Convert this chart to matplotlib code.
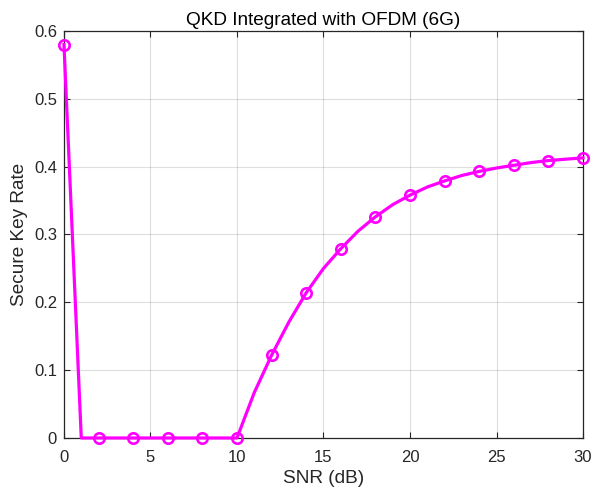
import matplotlib
matplotlib.use("Agg")
import matplotlib.pyplot as plt

plt.rcParams['font.family'] = ['Liberation Sans', 'DejaVu Sans']

snr = list(range(0, 31))
skr = [0.580, 0.0, 0.0, 0.0, 0.0, 0.0, 0.0, 0.0, 0.0, 0.0, 0.0,
       0.067, 0.122, 0.171, 0.214, 0.250, 0.279, 0.305, 0.326, 0.344,
       0.358, 0.370, 0.379, 0.387, 0.393, 0.398, 0.402, 0.406, 0.409,
       0.411, 0.413]
xticks = [0, 5, 10, 15, 20, 25, 30]
yticks = [0, 0.1, 0.2, 0.3, 0.4, 0.5, 0.6]
ytick_labels = ['0', '0.1', '0.2', '0.3', '0.4', '0.5', '0.6']

dark = (0.15, 0.15, 0.15)
fig = plt.figure(figsize=(5.94, 4.95), dpi=100)
ax = fig.add_axes([0.1077, 0.1152, 0.8738, 0.8222])
ax.plot(snr, skr, color=(1, 0, 1), linewidth=2.3, marker='o', markevery=2,
        markersize=7.5, markerfacecolor='none', markeredgewidth=1.9,
        clip_on=False, zorder=3)
ax.set_xlim(0, 30)
ax.set_ylim(0, 0.6)
ax.set_xticks(xticks)
ax.set_yticks(yticks)
ax.set_yticklabels(ytick_labels)
ax.grid(True, color=dark, alpha=0.15, linewidth=0.8)
ax.tick_params(direction='in', top=True, right=True, labelsize=12,
               colors=dark, length=4)
ax.tick_params(axis='y', pad=5)
ax.tick_params(axis='x', pad=8.5)
for s in ax.spines.values():
    s.set_color(dark)
    s.set_linewidth(0.9)
ax.set_xlabel('SNR (dB)', fontsize=13.7, color=dark, labelpad=4)
ax.set_ylabel('Secure Key Rate', fontsize=13.7, color=dark, labelpad=4)
ax.set_title('QKD Integrated with OFDM (6G)', fontsize=13.7, color='black', pad=4.5)
fig.savefig('out.png', dpi=100)
